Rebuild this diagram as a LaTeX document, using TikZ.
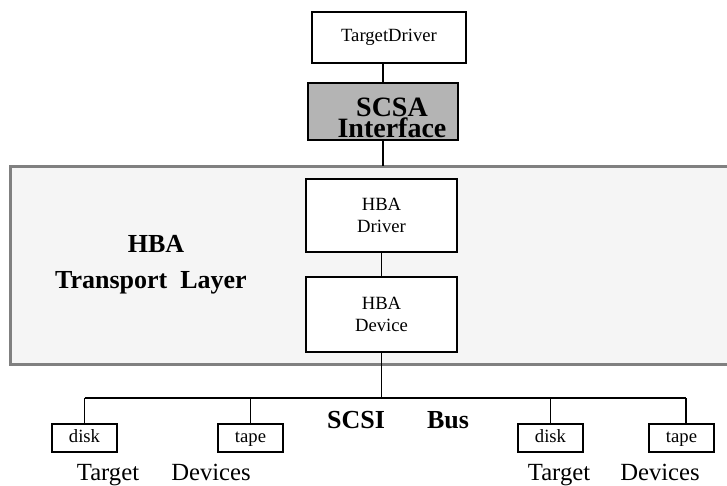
\documentclass[tikz,border=0pt]{standalone}
\usepackage{fontspec}
\setmainfont{Liberation Serif}

\tikzset{every picture/.style={line width=0.75pt}}
\tikzset{
  unitbox/.style={draw, fill=white, line width=1.1pt, inner sep=0pt, align=center, font=\fontsize{14}{16.5}\selectfont},
  devbox/.style={draw, fill=white, line width=1.1pt, inner sep=0pt, minimum width=48.75pt, minimum height=21pt, text height=9.5pt, text depth=3pt, font=\fontsize{14}{16}\selectfont},
  boldtext/.style={anchor=base, inner sep=0pt, font=\fontsize{19.5}{23}\selectfont\bfseries},
  scsatext/.style={inner sep=0pt, align=center, font=\fontsize{21}{15.75}\selectfont\bfseries},
  devtext/.style={anchor=base, inner sep=0pt, font=\fontsize{18.5}{20}\selectfont},
  wire/.style={line width=1.1pt}
}
\definecolor{layerfill}{RGB}{245,245,245}
\definecolor{layerline}{RGB}{128,128,128}
\definecolor{scsafill}{RGB}{180,180,180}

\begin{document}
\begin{tikzpicture}[x=0.75pt,y=0.75pt,yscale=-1,xscale=1]
        \useasboundingbox (0,0) rectangle (727,485);

        %Shape: Rectangle [transport layer]
        \draw [color=layerline, fill=layerfill, line width=2.25pt] (10,166.5) rectangle (740,364);
        \coordinate (ltop) at (383,165.5);

        % Boxes
        \node [unitbox, minimum width=115.5pt, minimum height=38.25pt] (tdrv) at (389,37.5) {TargetDriver};
        \node [unitbox, fill=scsafill, minimum width=112.5pt, minimum height=42.75pt] (scsa) at (383,111.5) {};
        \node [unitbox, minimum width=113.25pt, minimum height=54.75pt] (hbadrv) at (381.5,215.5) {HBA\\Driver};
        \node [unitbox, minimum width=113.25pt, minimum height=56.25pt] (hbadev) at (381.5,314.5) {HBA\\Device};

        % Text Node
        \node [scsatext] (scsaname) at (392,118) {SCSA\\Interface};
        \node [boldtext] (hba) at (156,252.7) {HBA};
        \node [boldtext] (layer) at (151,288) {Transport\enspace Layer};

        % Devices
        \node [devbox] (disk1) at (84.5,438) {disk};
        \node [devbox] (tape1) at (250.5,438) {tape};
        \node [devbox] (disk2) at (550.5,438) {disk};
        \node [devbox] (tape2) at (681.5,438) {tape};
        \coordinate (bus) at (384,398);

        % Text Node
        \node [boldtext] (scsi) at (356,428) {SCSI};
        \node [boldtext] (busname) at (448,428) {Bus};
        \node [devtext] (tgt1) at (108,480) {Target};
        \node [devtext] (dev1) at (211,480) {Devices};
        \node [devtext] (tgt2) at (559,480) {Target};
        \node [devtext] (dev2) at (660,480) {Devices};

        % Connectors
        \draw [wire] (scsa.north) -- (scsa.north |- tdrv.south);
        \draw [wire] (scsa.south) -- (scsa.south |- ltop);
        \draw [wire] (hbadrv.south) -- (hbadev.north);
        \draw [wire] (hbadev.south) -- (hbadev.south |- bus);
        \draw [wire] (disk1.north |- bus) -- ([xshift=3.4pt]tape2.north |- bus);
        \foreach \d in {disk1,tape1,disk2} {
          \draw [wire] (\d.north) -- (\d.north |- bus);
        }
        \draw [wire] ([xshift=3.4pt]tape2.north) -- ([xshift=3.4pt]tape2.north |- bus);

\end{tikzpicture}
\end{document}
